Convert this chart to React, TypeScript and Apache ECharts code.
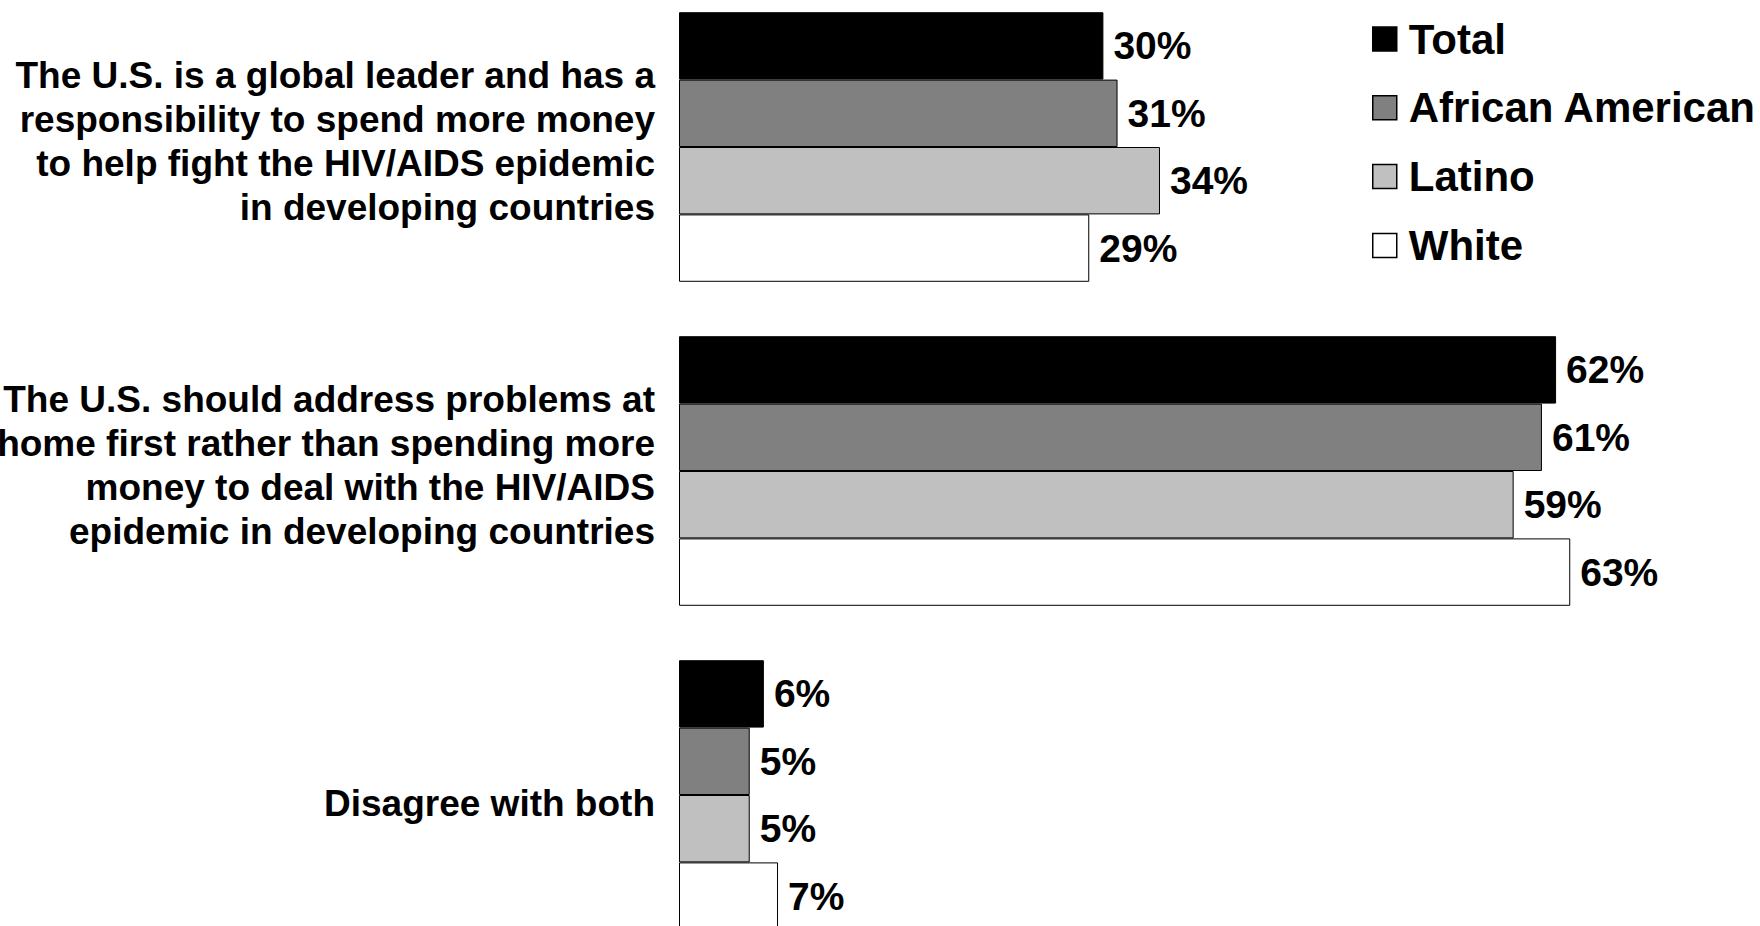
import React, { useEffect, useRef } from "react";
import * as echarts from "echarts";

const categories = [
  "The U.S. is a global leader and has a\nresponsibility to spend more money\nto help fight the HIV/AIDS epidemic\nin developing countries",
  "The U.S. should address problems at\nhome first rather than spending more\nmoney to deal with the HIV/AIDS\nepidemic in developing countries",
  "Disagree with both",
];
const seriesNames = ["Total", "African American", "Latino", "White"];
const total = [30, 62, 6];
const africanAmerican = [31, 61, 5];
const latino = [34, 59, 5];
const white = [29, 63, 7];
const seriesValues = [total, africanAmerican, latino, white];
const seriesColors = ["#000000", "#808080", "#c0c0c0", "#ffffff"];

const FONT = "'Liberation Sans', Arial, Helvetica, sans-serif";

export default function App() {
  const ref = useRef<HTMLDivElement>(null);
  useEffect(() => {
    if (!ref.current) return;
    const chart = echarts.init(ref.current, undefined, { renderer: "svg" });
    const labelText = {
      fontFamily: FONT,
      fontWeight: "bold" as const,
      fontSize: 37,
      lineHeight: 44,
      color: "#000",
      align: "right" as const,
    };
    chart.setOption({
      animation: false,
      backgroundColor: "#ffffff",
      grid: {
        left: 679,
        width: 1061,
        top: 0,
        bottom: 0,
        containLabel: false,
        outerBoundsMode: "none",
      },
      legend: {
        orient: "vertical",
        left: 1367,
        top: 28,
        icon: "rect",
        itemWidth: 24,
        itemHeight: 24,
        itemGap: 26.8,
        itemStyle: { borderColor: "#000", borderWidth: 1.5 },
        textStyle: {
          fontFamily: FONT,
          fontWeight: "bold",
          fontSize: 42,
          lineHeight: 40,
          color: "#000",
          padding: [0, 0, 0, 7],
        },
        data: seriesNames,
      },
      xAxis: {
        type: "value",
        min: 0,
        max: 75,
        show: false,
      },
      yAxis: {
        type: "category",
        inverse: true,
        data: categories,
        axisLine: { show: false },
        axisTick: { show: false },
        splitLine: { show: false },
        axisLabel: {
          interval: 0,
          margin: 24,
          align: "right",
          fontFamily: FONT,
          fontWeight: "bold",
          fontSize: 37,
          lineHeight: 44,
          color: "#000",
          formatter: (v: string) => {
            const lines = v.split("\n");
            if (lines.length > 1) {
              return lines.map((l) => "{m|" + l + "}").join("\n") + "\n{s| }";
            }
            return "{t| }\n{m|" + v + "}";
          },
          rich: {
            m: labelText,
            s: { ...labelText, fontSize: 4, lineHeight: 12 },
            t: { ...labelText, fontSize: 4, lineHeight: 16 },
          },
        },
      },
      series: seriesNames.map((name, i) => ({
        name,
        type: "bar",
        data: seriesValues[i],
        barGap: "0%",
        barCategoryGap: "16.8%",
        itemStyle: { color: seriesColors[i], borderColor: "#000", borderWidth: 1 },
        label: {
          show: true,
          position: "right",
          distance: 10,
          formatter: "{c}%",
          fontFamily: FONT,
          fontWeight: "bold",
          fontSize: 39,
          color: "#000",
        },
      })),
    });
    return () => chart.dispose();
  }, []);
  return (
    <div
      ref={ref}
      style={{ position: "absolute", left: 0, top: -15, width: 1760, height: 972 }}
    />
  );
}
